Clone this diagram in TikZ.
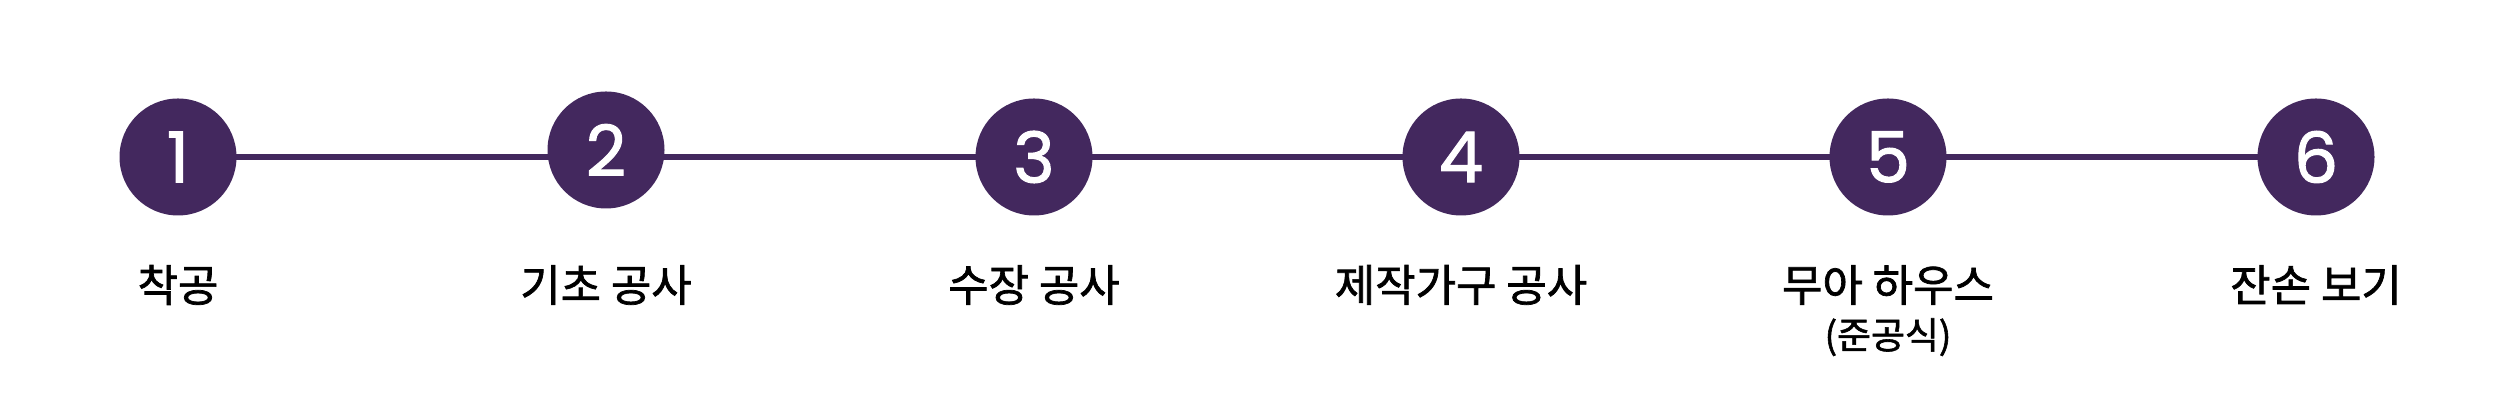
\documentclass[tikz,border=0pt]{standalone}
\usepackage{fontspec}
\newfontfamily\krfont[FakeBold=1.6,AutoFakeBold=1.6]{Noto Sans CJK KR}
\newfontfamily\numfont[FakeBold=1.4,AutoFakeBold=1.4]{Poppins}
\usepackage{tikz}
\usetikzlibrary{positioning}
\usetikzlibrary{backgrounds}
\definecolor{plum}{HTML}{43285E}

\tikzset{
    stage/.style={circle, fill=plum, minimum size=11.7mm, inner sep=0pt, text=white,
        font=\numfont\bfseries\fontsize{20}{20}\selectfont},
    caption/.style={inner sep=0pt, text=black, font=\krfont\bfseries\fontsize{12.5}{14}\selectfont},
    subcaption/.style={inner sep=0pt, text=black, font=\krfont\bfseries\fontsize{10.5}{12}\selectfont},
    rail/.style={draw=plum, line width=1.7pt},
}

\begin{document}
\begin{tikzpicture}[x=1mm, y=1mm]
    \useasboundingbox (0,0) rectangle (250,-42);

    \coordinate (row) at (0,-28.5);

    \foreach \i/\x/\y/\txt in {1/17.8/-15.7/착공, 2/60.6/-15.0/기초 공사, 3/103.4/-15.7/수장 공사,
                               4/146.1/-15.7/제작가구 공사, 5/188.8/-15.7/무아 하우스, 6/231.6/-15.7/잔손 보기} {
        \node [stage] (s\i) at (\x,\y) {\i};
        \node [caption] (t\i) at (s\i |- row) {\txt};
    }

    \node [subcaption, below=1.2mm of t5] (t5b) {(준공식)};

    \begin{pgfonlayer}{background}
        \draw [rail] (s1.center) -- (s6.center);
    \end{pgfonlayer}
\end{tikzpicture}
\end{document}
